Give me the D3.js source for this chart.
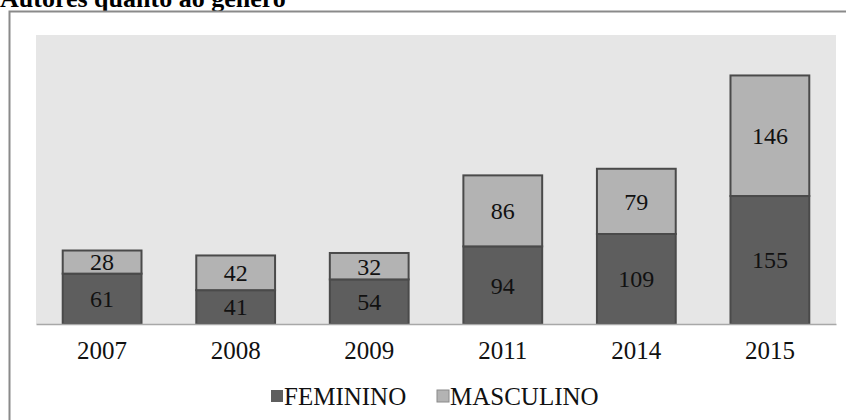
<!DOCTYPE html>
<html>
<head>
<meta charset="utf-8">
<script src="https://cdn.jsdelivr.net/npm/d3@7"></script>
<style>
  html, body { margin: 0; padding: 0; background: #ffffff; }
  svg { display: block; }
</style>
</head>
<body>
<svg id="chart" width="846" height="420"></svg>
<script>
const categories = ["2007", "2008", "2009", "2011", "2014", "2015"];
const feminino = [61, 41, 54, 94, 109, 155];
const masculino = [28, 42, 32, 86, 79, 146];
const seriesNames = ["FEMININO", "MASCULINO"];
const colors = ["#5e5e5e", "#b3b3b3"];

const svg = d3.select("#chart");
const W = 846, H = 420;
const plot = { left: 36, right: 836, top: 35, bottom: 324 };
const serif = "'Liberation Serif', 'Times New Roman', serif";

// title (partly cut off at the top, as in the reference)
svg.append("text")
  .attr("x", 0).attr("y", 7)
  .attr("font-family", serif)
  .attr("font-weight", "bold")
  .attr("font-size", 26)
  .attr("fill", "#000")
  .text("Autores quanto ao gênero");

// outer frame
svg.append("path")
  .attr("d", `M9.5,${H} L9.5,11.5 L${W},11.5`)
  .attr("fill", "none").attr("stroke", "#8a8a8a").attr("stroke-width", 2);

// plot area background
svg.append("rect")
  .attr("x", plot.left).attr("y", plot.top)
  .attr("width", plot.right - plot.left).attr("height", plot.bottom - plot.top)
  .attr("fill", "#e6e6e6");

const x = d3.scaleBand().domain(categories).range([plot.left, plot.right]).paddingInner(0.41).paddingOuter(0.2);
const y = d3.scaleLinear().domain([0, 350]).range([plot.bottom, plot.top]);

const data = categories.map((c, i) => ({ cat: c, FEMININO: feminino[i], MASCULINO: masculino[i] }));
const stack = d3.stack().keys(seriesNames)(data);

const layers = svg.selectAll("g.layer").data(stack).enter().append("g").attr("class", "layer");
layers.selectAll("rect").data((s, si) => s.map(d => ({ d, si })))
  .enter().append("rect")
  .attr("x", o => x(o.d.data.cat))
  .attr("width", x.bandwidth())
  .attr("y", o => y(o.d[1]))
  .attr("height", o => y(o.d[0]) - y(o.d[1]))
  .attr("fill", o => colors[o.si])
  .attr("stroke", "#4a4a4a")
  .attr("stroke-width", 2);

// value labels
layers.selectAll("text").data((s, si) => s.map(d => ({ d, si })))
  .enter().append("text")
  .attr("x", o => x(o.d.data.cat) + x.bandwidth() / 2)
  .attr("y", o => (y(o.d[0]) + y(o.d[1])) / 2)
  .attr("dy", "0.35em")
  .attr("text-anchor", "middle")
  .attr("font-family", serif)
  .attr("font-size", 24)
  .attr("fill", "#111")
  .text(o => o.d[1] - o.d[0]);

// baseline axis
const xAxis = d3.axisBottom(x).tickSize(0).tickPadding(17);
const ax = svg.append("g").attr("transform", `translate(0,${plot.bottom})`).call(xAxis);
ax.select(".domain").attr("stroke", "#a8a8a8").attr("stroke-width", 1.5);
ax.selectAll("text")
  .attr("font-family", serif)
  .attr("font-size", 25)
  .attr("fill", "#111");

// legend
const legendItems = [{ name: "FEMININO", x: 271 }, { name: "MASCULINO", x: 437 }];
const lg = svg.append("g");
legendItems.forEach((it, i) => {
  lg.append("rect").attr("x", it.x).attr("y", 390).attr("width", 12).attr("height", 12)
    .attr("fill", colors[i]).attr("stroke", i === 1 ? "#8a8a8a" : "none").attr("stroke-width", 1);
  lg.append("text").attr("x", it.x + 13).attr("y", 396).attr("dy", "0.35em")
    .attr("font-family", serif)
    .attr("font-size", 25).attr("fill", "#111")
    .text(it.name);
});
</script>
</body>
</html>
